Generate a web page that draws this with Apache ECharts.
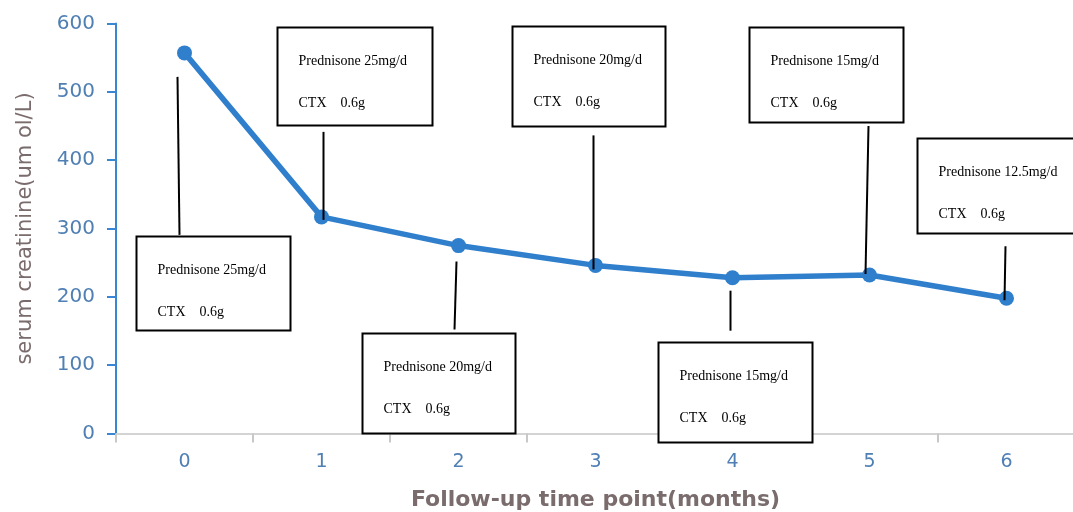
<!DOCTYPE html>
<html>
<head>
<meta charset="utf-8">
<script src="https://cdn.jsdelivr.net/npm/echarts@6/dist/echarts.min.js"></script>
<style>
html,body{margin:0;padding:0;background:#fff;}
#chart{width:1073px;height:512px;}
</style>
</head>
<body>
<div id="chart"></div>
<script>
// ---- data ----
var categories = ['0', '1', '2', '3', '4', '5', '6'];
var creatinine = [557, 317, 275, 246, 228, 232, 198];
var yTicks = [0, 100, 200, 300, 400, 500, 600];
var prednisoneText = ['Prednisone 25mg/d', 'Prednisone 25mg/d', 'Prednisone 20mg/d', 'Prednisone 20mg/d',
                      'Prednisone 15mg/d', 'Prednisone 15mg/d', 'Prednisone 12.5mg/d'];
var ctxText = ['CTX    0.6g', 'CTX    0.6g', 'CTX    0.6g', 'CTX    0.6g', 'CTX    0.6g', 'CTX    0.6g', 'CTX    0.6g'];
var yAxisName = 'serum creatinine(um ol/L)';
var xAxisName = 'Follow-up time point(months)';

// ---- annotation layout (pixel offsets relative to each data point) ----
var boxLayout = [
  {dx: -49, dy: 183, w: 154, h: 94, l: [-7, 24, -5, 182]},
  {dx: -45, dy: -190, w: 155, h: 98, l: [2, -85, 2, 3]},
  {dx: -97, dy: 87, w: 153, h: 100, l: [-2, 16, -4, 84]},
  {dx: -84, dy: -239, w: 153, h: 100, l: [-2, -130, -2, 4]},
  {dx: -75, dy: 64, w: 154, h: 100, l: [-2, 13, -2, 53]},
  {dx: -121, dy: -248, w: 154, h: 95, l: [-1, -149, -4, -1]},
  {dx: -90, dy: -160, w: 162, h: 95, l: [-1, -52, -2, 2]}
];

var chart = echarts.init(document.getElementById('chart'), null, {renderer: 'canvas'});
var tickColor = '#4f7fb3';
var nameColor = '#7a6c6c';

chart.setOption({
  animation: false,
  backgroundColor: '#ffffff',
  grid: {left: 116, right: -2, top: 23.5, bottom: 78.5, containLabel: false, outerBoundsMode: 'none'},
  xAxis: {
    type: 'category',
    data: categories,
    boundaryGap: true,
    name: xAxisName,
    nameLocation: 'middle',
    nameGap: 56,
    nameTextStyle: {color: nameColor, fontSize: 22, fontWeight: 'bold', fontFamily: 'DejaVu Sans'},
    axisLine: {lineStyle: {color: '#d4d4d4', width: 2}},
    axisTick: {show: true, length: 9, lineStyle: {color: '#c8c8c8', width: 2}},
    axisLabel: {color: tickColor, fontSize: 19, fontFamily: 'DejaVu Sans', margin: 19},
    splitLine: {show: false}
  },
  yAxis: {
    type: 'value',
    min: yTicks[0],
    max: yTicks[yTicks.length - 1],
    interval: 100,
    name: yAxisName,
    nameLocation: 'middle',
    nameGap: 80,
    nameTextStyle: {color: nameColor, fontSize: 21, fontFamily: 'DejaVu Sans'},
    axisLine: {show: true, lineStyle: {color: '#3a86d0', width: 2}},
    axisTick: {show: true, length: 9, lineStyle: {color: '#3a86d0', width: 2}},
    axisLabel: {color: tickColor, fontSize: 20, fontFamily: 'DejaVu Sans', margin: 21},
    splitLine: {show: false}
  },
  series: [{
    type: 'line',
    data: creatinine,
    symbol: 'circle',
    symbolSize: 15,
    lineStyle: {color: '#2f7fcc', width: 5.5},
    itemStyle: {color: '#2f7fcc'},
    z: 3
  }]
});

function drawAnnotations() {
  var g = [];
  for (var i = 0; i < categories.length; i++) {
    var p = chart.convertToPixel({seriesIndex: 0}, [i, creatinine[i]]);
    var b = boxLayout[i];
    var bx = Math.round(p[0] + b.dx) + 0.5, by = Math.round(p[1] + b.dy) + 0.5;
    g.push({
      type: 'line', z: 10,
      shape: {x1: p[0] + b.l[0], y1: p[1] + b.l[1], x2: p[0] + b.l[2], y2: p[1] + b.l[3]},
      style: {stroke: '#000', lineWidth: 2}
    });
    g.push({
      type: 'rect', z: 11,
      shape: {x: bx, y: by, width: b.w, height: b.h},
      style: {fill: '#fff', stroke: '#000', lineWidth: 2}
    });
    g.push({
      type: 'text', z: 12,
      x: bx + 21, y: by + 34,
      style: {text: prednisoneText[i], fill: '#000', font: '14px "Liberation Serif"', textVerticalAlign: 'middle'}
    });
    g.push({
      type: 'text', z: 12,
      x: bx + 21, y: by + 76,
      style: {text: ctxText[i].replace(/ /g, '\u00a0'), fill: '#000', font: '14px "Liberation Serif"', textVerticalAlign: 'middle'}
    });
  }
  chart.setOption({graphic: g});
}
drawAnnotations();
</script>
</body>
</html>
